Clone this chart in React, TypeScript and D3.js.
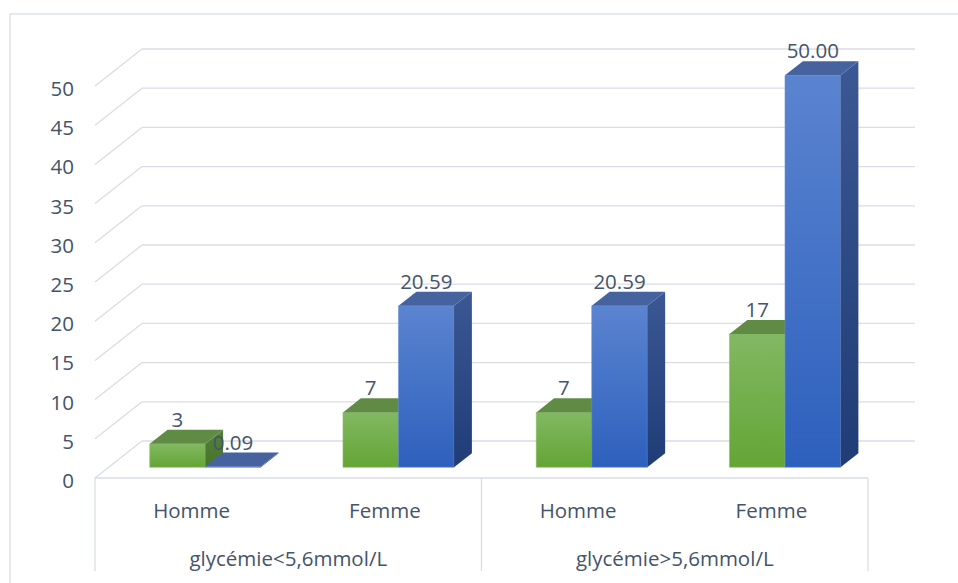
import React from "react";
import * as d3 from "d3";

// Chart data
const groups = ["glycémie<5,6mmol/L", "glycémie>5,6mmol/L"];
const sexes = ["Homme", "Femme"];
const greenValues = [3, 7, 7, 17];
const blueValues = [0.09, 20.59, 20.59, 50.0];
const greenLabels = ["3", "7", "7", "17"];
const blueLabels = ["0.09", "20.59", "20.59", "50.00"];
const yTicks = [0, 5, 10, 15, 20, 25, 30, 35, 40, 45, 50];

const W = 958;
const H = 583;
const FONT = "'Open Sans', 'Noto Sans', sans-serif";
const TEXT = "#44546a";
const GRID = "#d9dde4";

// Plot box (front plane) and depth projection
const left = 95;
const right = 868;
const yZero = 478;
const yTop = 86;
const DX = 47; // full depth, horizontal shift
const DY = -37; // full depth, vertical shift
const d0 = 0.29; // bar front depth
const d1 = 0.67; // bar back depth

const categories = groups.flatMap((g) => sexes.map((s) => `${g}|${s}`));

export default function App() {
  const y = d3.scaleLinear().domain([0, 50]).range([yZero, yTop]);
  const x = d3.scaleBand().domain(categories).range([left, right]).padding(0);
  const sub = d3
    .scaleBand()
    .domain(["green", "blue"])
    .range([0, x.bandwidth()])
    .paddingInner(0)
    .paddingOuter(0.74);

  const proj = (px: number, py: number, d: number): [number, number] => [px + d * DX, py + d * DY];
  const poly = (pts: [number, number][]) => pts.map((p) => p.join(",")).join(" ");

  const bar = (key: string, cat: string, v: number, series: "green" | "blue") => {
    const x0 = (x(cat) as number) + (sub(series) as number);
    const x1 = x0 + sub.bandwidth();
    const yb = y(0);
    const yt = y(v);
    const fa = proj(x0, yb, d0), fb = proj(x1, yb, d0), fc = proj(x1, yt, d0), fd = proj(x0, yt, d0);
    const bc = proj(x1, yt, d1), bd = proj(x0, yt, d1), bb = proj(x1, yb, d1);
    const front = [fd, fc, fb, fa] as [number, number][];
    const top = [fd, fc, bc, bd] as [number, number][];
    const side = [fc, bc, bb, fb] as [number, number][];
    return (
      <g key={key}>
        <polygon points={poly(front)} fill={`url(#${series}Front)`} stroke={series === "green" ? "#8cc06a" : "#6a8fd6"} strokeWidth={0.6} />
        <polygon points={poly(side)} fill={`url(#${series}Side)`} />
        <polygon points={poly(top)} fill={series === "green" ? "#5f8b44" : "#46639f"} />
      </g>
    );
  };

  const labelPos = (cat: string, v: number, series: "green" | "blue") => {
    const x0 = (x(cat) as number) + (sub(series) as number);
    const [fx, fy] = proj(x0 + sub.bandwidth() / 2, y(v), d0);
    return [fx, fy - 25];
  };

  return (
    <svg width={W} height={H} style={{ position: "absolute", left: 0, top: 0, background: "#fff" }} fontFamily={FONT}>
      <defs>
        <linearGradient id="greenFront" x1="0" y1="0" x2="0" y2="1">
          <stop offset="0" stopColor="#82b863" />
          <stop offset="1" stopColor="#64a535" />
        </linearGradient>
        <linearGradient id="blueFront" x1="0" y1="0" x2="0" y2="1">
          <stop offset="0" stopColor="#5b84d0" />
          <stop offset="1" stopColor="#2d60bd" />
        </linearGradient>
        <linearGradient id="greenSide" x1="0" y1="0" x2="0" y2="1">
          <stop offset="0" stopColor="#56803a" />
          <stop offset="1" stopColor="#46732a" />
        </linearGradient>
        <linearGradient id="blueSide" x1="0" y1="0" x2="0" y2="1">
          <stop offset="0" stopColor="#3b5894" />
          <stop offset="1" stopColor="#1f3c77" />
        </linearGradient>
      </defs>

      {/* chart area border */}
      <rect x={10} y={14} width={W} height={H} fill="none" stroke="#d9dde4" strokeWidth={1.3} />

      {/* gridlines: diagonal from the front axis to the back wall, then across */}
      {yTicks.map((t) => {
        const [bx, by] = proj(left, y(t), 1);
        return (
          <g key={`g${t}`} stroke={GRID} strokeWidth={1.3} fill="none">
            <line x1={left} y1={y(t)} x2={bx} y2={by} />
            <line x1={bx} y1={by} x2={right + DX} y2={by} />
          </g>
        );
      })}

      {/* y tick labels */}
      {yTicks.map((t) => (
        <text key={`t${t}`} x={74} y={y(t) + 2} textAnchor="end" dominantBaseline="central" fontSize={20.5} fill={TEXT}>
          {t}
        </text>
      ))}

      {/* bars */}
      {categories.map((c, i) => (
        <g key={c}>
          {bar(`gb${i}`, c, greenValues[i], "green")}
          {bar(`bb${i}`, c, blueValues[i], "blue")}
        </g>
      ))}

      {/* data labels */}
      {categories.map((c, i) => {
        const [gx, gy] = labelPos(c, greenValues[i], "green");
        const [bx, by] = labelPos(c, blueValues[i], "blue");
        return (
          <g key={`l${i}`} fontSize={20.5} fill={TEXT} textAnchor="middle" dominantBaseline="central">
            <text x={gx} y={gy}>{greenLabels[i]}</text>
            <text x={bx} y={by}>{blueLabels[i]}</text>
          </g>
        );
      })}

      {/* category axis with two levels */}
      <g stroke={GRID} strokeWidth={1.3}>
        <line x1={left} y1={yZero} x2={right} y2={yZero} />
        {[left, (x(categories[2]) as number), right].map((xx, i) => (
          <line key={`v${i}`} x1={xx} y1={yZero} x2={xx} y2={571} />
        ))}
      </g>
      {categories.map((c) => (
        <text key={`c${c}`} x={(x(c) as number) + x.bandwidth() / 2} y={510} textAnchor="middle" dominantBaseline="central" fontSize={20.5} fill={TEXT}>
          {c.split("|")[1]}
        </text>
      ))}
      {groups.map((g, i) => {
        const a = x(categories[i * 2]) as number;
        const b = (x(categories[i * 2 + 1]) as number) + x.bandwidth();
        return (
          <text key={`grp${i}`} x={(a + b) / 2} y={558} textAnchor="middle" dominantBaseline="central" fontSize={20.5} fill={TEXT}>
            {g}
          </text>
        );
      })}
    </svg>
  );
}
